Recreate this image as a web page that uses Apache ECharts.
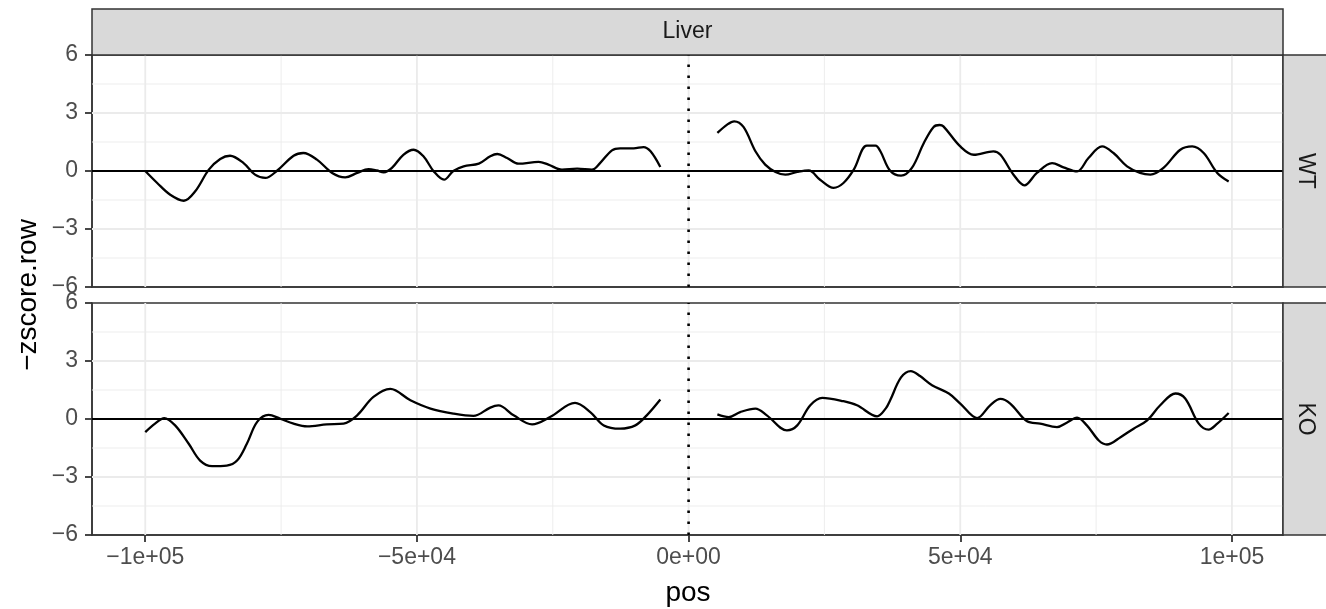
<!DOCTYPE html>
<html><head><meta charset="utf-8">
<script src="https://cdn.jsdelivr.net/npm/echarts@6/dist/echarts.min.js"></script>
<style>html,body{margin:0;padding:0;background:#fff}#c{width:1326px;height:609px}</style>
</head><body><div id="c"></div><script>
const facetTitle = 'Liver';
const panelNames = ['WT', 'KO'];
const xTitle = 'pos';
const yTitle = '−zscore.row';
const xTicks = [-100000, -50000, 0, 50000, 100000];
const xTickLabels = ['−1e+05', '−5e+04', '0e+00', '5e+04', '1e+05'];
const xMinor = [-75000, -25000, 25000, 75000];
const yTicks = [-6, -3, 0, 3, 6];
const yTickLabels = ['−6', '−3', '0', '3', '6'];
const yMinor = [-4.5, -1.5, 1.5, 4.5];

const wtLeft = [[-100000,0],[-97800,-0.62],[-95400,-1.23],[-92900,-1.54],[-90800,-1.05],[-88300,0.07],[-86200,0.62],[-84400,0.79],[-81900,0.41],[-79800,-0.19],[-77900,-0.36],[-75800,0],[-72700,0.79],[-70900,0.93],[-68400,0.59],[-65600,-0.10],[-63200,-0.33],[-61000,-0.10],[-58900,0.10],[-57400,0.03],[-56100,-0.07],[-54600,0.16],[-52500,0.84],[-50600,1.10],[-48800,0.76],[-46900,-0.02],[-45000,-0.45],[-43300,0],[-41400,0.24],[-38600,0.38],[-36500,0.76],[-35200,0.88],[-33400,0.67],[-31300,0.38],[-27600,0.47],[-25800,0.33],[-23300,0.07],[-20500,0.12],[-17800,0.07],[-16300,0.41],[-14100,1.07],[-12600,1.17],[-10100,1.17],[-8300,1.24],[-7000,1.02],[-5200,0.21]];
const wtRight = [[5300,1.97],[7100,2.40],[8400,2.57],[10100,2.28],[12300,1.02],[14100,0.33],[16000,-0.05],[17800,-0.19],[20000,-0.05],[22100,0.03],[24200,-0.45],[26700,-0.87],[28500,-0.62],[30400,0.07],[32800,1.31],[34400,1.31],[35300,1.02],[37100,0.01],[39100,-0.24],[41100,0.16],[43300,1.45],[45100,2.28],[46200,2.38],[46900,2.31],[50000,1.27],[52500,0.84],[56100,1.02],[57400,0.84],[59800,-0.19],[61800,-0.74],[64100,-0.10],[66900,0.41],[69000,0.19],[71500,-0.02],[73600,0.67],[76100,1.27],[78200,0.93],[80700,0.24],[83100,-0.10],[85000,-0.19],[87400,0.16],[90500,1.10],[92700,1.27],[94800,0.93],[97300,-0.10],[99400,-0.54]];
const koLeft = [[-100000,-0.68],[-98200,-0.24],[-96500,0.05],[-94500,-0.33],[-92000,-1.28],[-89900,-2.15],[-87700,-2.44],[-85000,-2.41],[-83100,-2.15],[-81300,-1.28],[-79400,-0.15],[-77300,0.21],[-75200,0.02],[-72700,-0.24],[-70200,-0.38],[-66600,-0.28],[-63500,-0.24],[-61000,0.19],[-58000,1.14],[-54900,1.56],[-51200,0.97],[-47500,0.54],[-43300,0.28],[-39600,0.16],[-36500,0.59],[-35000,0.70],[-32200,0.19],[-28800,-0.28],[-25500,0.10],[-20900,0.83],[-18100,0.36],[-15600,-0.33],[-12600,-0.50],[-9800,-0.33],[-7700,0.19],[-5200,1.01]];
const koRight = [[5300,0.24],[7400,0.10],[9500,0.36],[12300,0.54],[14400,0.19],[18100,-0.59],[20000,-0.33],[22400,0.71],[24600,1.09],[28500,0.92],[31000,0.71],[34700,0.14],[36300,0.55],[37100,0.97],[39100,2.15],[40900,2.48],[42600,2.22],[44800,1.75],[47900,1.32],[50000,0.80],[53100,0.05],[55500,0.71],[57400,1.04],[59200,0.80],[62300,-0.12],[64700,-0.24],[67800,-0.42],[69600,-0.19],[71500,0.07],[73300,-0.33],[75500,-1.11],[77000,-1.32],[79500,-0.94],[81900,-0.50],[84400,-0.07],[86800,0.71],[89600,1.32],[91400,1.06],[93900,-0.24],[95700,-0.55],[97300,-0.24],[99400,0.31]];
const panelData = [[wtLeft, wtRight], [koLeft, koRight]];

const xMin = -109800, xMax = 109400, yMin = -6, yMax = 6;
const FONT = 'Liberation Sans, Arial, Helvetica, sans-serif';
const TICK_FS = 23, TITLE_FS = 28;

const grids = [
  {left: 92, top: 55, width: 1191, height: 232},
  {left: 92, top: 303, width: 1191, height: 232}
];

function xLabel(v) { const i = xTicks.indexOf(v); return i >= 0 ? xTickLabels[i] : ''; }
function yLabel(v) { const i = yTicks.indexOf(v); return i >= 0 ? yTickLabels[i] : ''; }

const xAxes = [], yAxes = [], series = [];
grids.forEach((g, gi) => {
  g.show = true; g.borderColor = '#333333'; g.borderWidth = 1.5; g.backgroundColor = 'transparent';
  const showX = gi === grids.length - 1;
  xAxes.push({
    type: 'value', gridIndex: gi, min: xMin, max: xMax, position: 'bottom',
    axisLine: {show: true, onZero: false, lineStyle: {color: '#333333', width: 1.5}}, splitLine: {show: false},
    axisTick: {show: showX, customValues: xTicks, length: 7, lineStyle: {color: '#333333', width: 1.8}},
    axisLabel: {show: showX, customValues: xTicks, formatter: xLabel, color: '#4D4D4D', fontSize: TICK_FS, margin: 11, fontFamily: FONT}
  });
  yAxes.push({
    type: 'value', gridIndex: gi, min: yMin, max: yMax, interval: 3, position: 'left',
    axisLine: {show: true, onZero: false, lineStyle: {color: '#333333', width: 1.5}}, splitLine: {show: false},
    axisTick: {show: true, length: 7, lineStyle: {color: '#333333', width: 1.8}},
    axisLabel: {formatter: yLabel, color: '#4D4D4D', fontSize: TICK_FS, margin: 14, fontFamily: FONT}
  });
  const gl = [];
  xMinor.forEach(v => gl.push([v, 0, 0]));
  xTicks.filter(v => v > xMin && v < xMax).forEach(v => gl.push([v, 1, 0]));
  yMinor.forEach(v => gl.push([v, 0, 1]));
  yTicks.filter(v => v > yMin && v < yMax).forEach(v => gl.push([v, 1, 1]));
  series.push({
    type: 'custom', xAxisIndex: gi, yAxisIndex: gi, silent: true, z: 1, data: gl,
    renderItem(params, api) {
      const v = api.value(0), major = api.value(1), horiz = api.value(2);
      let p1, p2;
      if (horiz) { p1 = api.coord([xMin, v]); p2 = api.coord([xMax, v]); }
      else { p1 = api.coord([v, yMin]); p2 = api.coord([v, yMax]); }
      return {type: 'line', shape: {x1: p1[0], y1: p1[1], x2: p2[0], y2: p2[1]},
        style: {stroke: '#EBEBEB', lineWidth: major ? 1.8 : 0.9}};
    }
  });
  panelData[gi].forEach(seg => {
    series.push({
      type: 'line', xAxisIndex: gi, yAxisIndex: gi, data: seg, showSymbol: false, symbol: 'none',
      smooth: 0.35, silent: true, z: 3,
      lineStyle: {color: '#000000', width: 2.3}
    });
  });
  series.push({
    type: 'custom', xAxisIndex: gi, yAxisIndex: gi, silent: true, z: 4, data: [[0, 0], [0, 1]],
    renderItem(params, api) {
      const v = api.value(0), vert = api.value(1);
      if (vert) {
        const p1 = api.coord([v, yMin]), p2 = api.coord([v, yMax]);
        return {type: 'line', shape: {x1: p1[0], y1: p1[1], x2: p2[0], y2: p2[1]},
          style: {stroke: '#000000', lineWidth: 2.6, lineDash: [2.6, 8.4]}};
      }
      const p1 = api.coord([xMin, v]), p2 = api.coord([xMax, v]);
      return {type: 'line', shape: {x1: p1[0], y1: p1[1], x2: p2[0], y2: p2[1]},
        style: {stroke: '#000000', lineWidth: 2.2}};
    }
  });
});

const graphics = [
  {type: 'rect', shape: {x: 92, y: 9, width: 1191, height: 46}, style: {fill: '#D9D9D9', stroke: '#333333', lineWidth: 1.5}, z: 10},
  {type: 'text', x: 687.5, y: 32, style: {text: facetTitle, fontSize: TICK_FS, fontFamily: FONT, fill: '#1A1A1A', align: 'center', verticalAlign: 'middle'}, z: 11},
  {type: 'text', x: 688, y: 593, style: {text: xTitle, fontSize: TITLE_FS, fontFamily: FONT, fill: '#000000', align: 'center', verticalAlign: 'middle'}, z: 11},
  {type: 'text', x: 28, y: 295, rotation: Math.PI / 2, style: {text: yTitle, fontSize: TITLE_FS, fontFamily: FONT, fill: '#000000', align: 'center', verticalAlign: 'middle'}, z: 11}
];
grids.forEach((g, gi) => {
  graphics.push({type: 'rect', shape: {x: 1283, y: g.top, width: 50, height: g.height}, style: {fill: '#D9D9D9', stroke: '#333333', lineWidth: 1.5}, z: 10});
  graphics.push({type: 'text', x: 1305, y: g.top + g.height / 2, rotation: -Math.PI / 2, style: {text: panelNames[gi], fontSize: TICK_FS, fontFamily: FONT, fill: '#1A1A1A', align: 'center', verticalAlign: 'middle'}, z: 11});
});

const chart = echarts.init(document.getElementById('c'), null, {renderer: 'canvas'});
chart.setOption({
  animation: false,
  backgroundColor: '#ffffff',
  grid: grids, xAxis: xAxes, yAxis: yAxes, series: series, graphic: graphics
});
</script></body></html>
